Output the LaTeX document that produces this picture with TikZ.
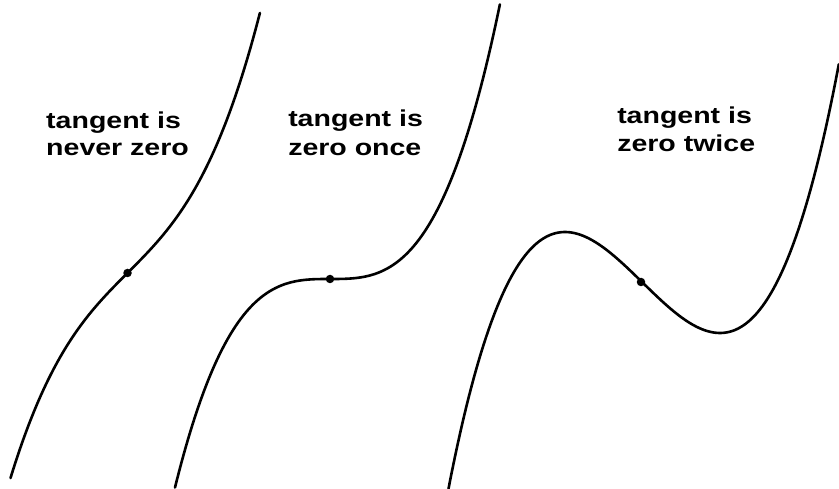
\documentclass[tikz,border=0pt]{standalone}
\usepackage{fontspec}
\setmainfont{Liberation Sans}
\begin{document}
\begin{tikzpicture}[x=1pt,y=-1pt,
  curve/.style={line width=2.6pt, line join=round, line cap=round, black},
  dotnode/.style={circle, fill=black, inner sep=0pt, minimum size=8.5pt},
  lbl/.style={anchor=base west, inner sep=0pt, font=\fontsize{23}{27}\selectfont\bfseries, xscale=1.24, transform shape}]
\useasboundingbox (0,0) rectangle (839,489);
% curve 1: tangent never zero
\draw[curve] plot[domain=-1.17:1.326, samples=150, smooth] ({127.5+100*\x}, {273-(55*\x*\x*\x+100*\x)});
% curve 2: tangent zero once
\draw[curve] plot[domain=-1.55:1.70, samples=150, smooth] ({330+100*\x}, {279-(56*\x*\x*\x)});
% curve 3: tangent zero twice
\draw[curve] plot[domain=-1.94:1.965, samples=180, smooth] ({642.5+100*\x}, {282.5-(54.2*\x*\x*\x-97.7*\x)});
\node[dotnode] (d1) at (127.5,273) {};
\node[dotnode] (d2) at (330,279) {};
\node[dotnode] (d3) at (641,282) {};
\node[lbl] (t1a) at (46,129) {tangent is};
\node[lbl] (t1b) at (46,156) {never zero};
\node[lbl] (t2a) at (288,127) {tangent is};
\node[lbl] (t2b) at (288,156) {zero once};
\node[lbl] (t3a) at (617,124) {tangent is};
\node[lbl] (t3b) at (617,152) {zero twice};
\end{tikzpicture}
\end{document}
